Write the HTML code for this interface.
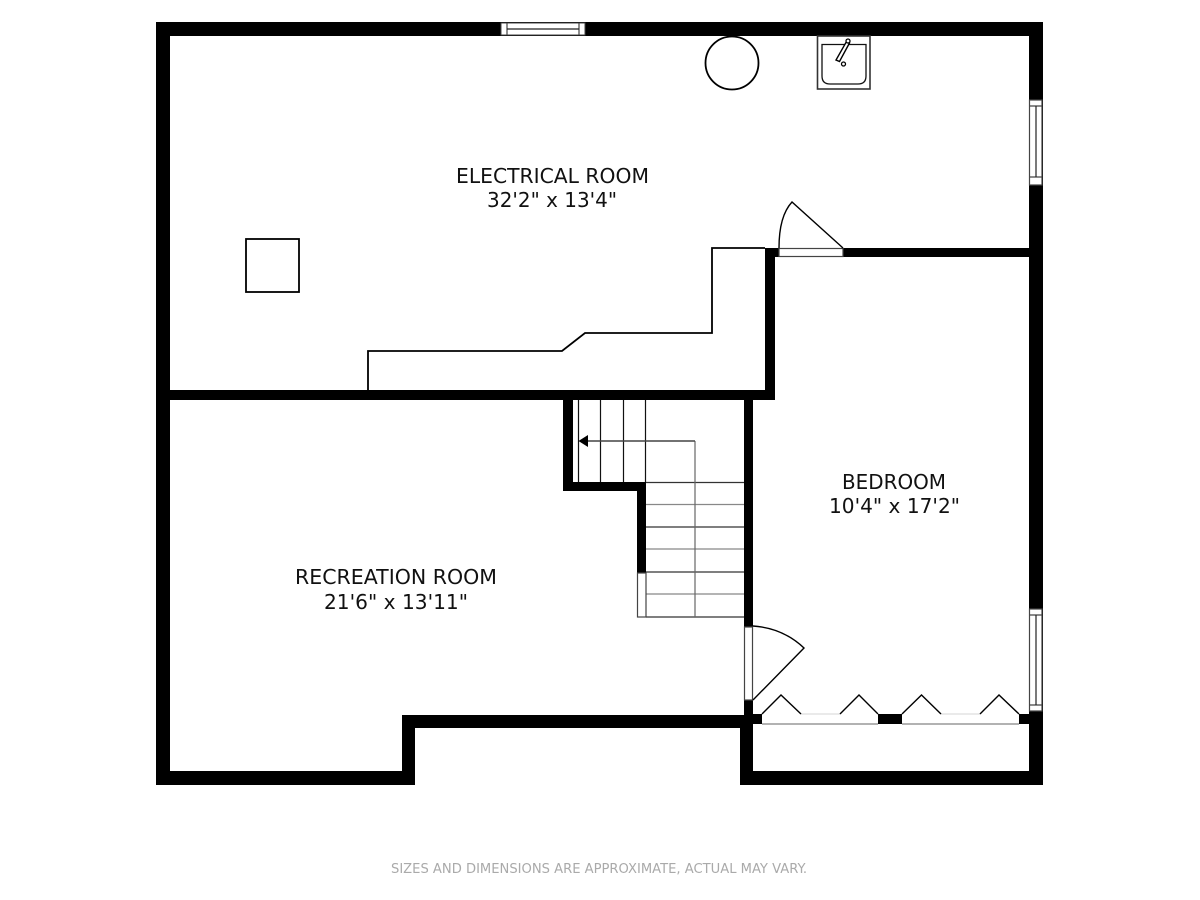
<!DOCTYPE html>
<html>
<head>
<meta charset="utf-8">
<style>
html,body{margin:0;padding:0;background:#fff;width:1200px;height:900px;overflow:hidden}
svg{display:block}
text{font-family:"DejaVu Sans","Liberation Sans",sans-serif;fill:#111;font-size:20px}
</style>
</head>
<body>
<svg width="1200" height="900" viewBox="0 0 1200 900" xmlns="http://www.w3.org/2000/svg">
<rect width="1200" height="900" fill="#fff"/>
<!-- walls -->
<g fill="#000">
<rect x="156" y="22" width="887" height="14"/>
<rect x="156" y="22" width="14" height="763"/>
<rect x="1029" y="22" width="14" height="763"/>
<rect x="156" y="771" width="259" height="14"/>
<rect x="402" y="715" width="13" height="70"/>
<rect x="402" y="715" width="351" height="13"/>
<rect x="740" y="715" width="13" height="70"/>
<rect x="740" y="771" width="303" height="14"/>
<rect x="156" y="390" width="619" height="10"/>
<rect x="765" y="248" width="10" height="152"/>
<rect x="765" y="248" width="265" height="9"/>
<rect x="744" y="400" width="9" height="325"/>
<rect x="563" y="400" width="10" height="91"/>
<rect x="563" y="482" width="83" height="9"/>
<rect x="637" y="482" width="9" height="91"/>
<rect x="744" y="714" width="18" height="10"/>
<rect x="878" y="714" width="24" height="10"/>
<rect x="1019" y="714" width="11" height="10"/>
</g>
<!-- top window -->
<rect x="501" y="23" width="84" height="12" fill="#fff" stroke="#444" stroke-width="1"/>
<path d="M507 23V35M579 23V35" stroke="#444" stroke-width="1.2" fill="none"/>
<path d="M507 29H579" stroke="#222" stroke-width="1.2" fill="none"/>
<!-- right windows -->
<g fill="#fff" stroke="#444" stroke-width="1.2">
<rect x="1029.500" y="100" width="12.500" height="85"/>
<path d="M1029.500 106H1042M1029.500 177H1042" fill="none"/>
<path d="M1036 106V177" fill="none" stroke="#222"/>
<rect x="1029.500" y="609" width="12.500" height="102"/>
<path d="M1029.500 615H1042M1029.500 705H1042" fill="none"/>
<path d="M1036 615V705" fill="none" stroke="#222"/>
</g>
<!-- electrical door -->
<rect x="779" y="248.500" width="64" height="8" fill="#fff" stroke="#444" stroke-width="1.200"/>
<path d="M843 248L792 202Q779 216 779 248" fill="none" stroke="#000" stroke-width="1.400"/>
<!-- bedroom door -->
<rect x="744.500" y="627" width="8" height="73" fill="#fff" stroke="#444" stroke-width="1.200"/>
<path d="M753 700L804 648Q783 628 753 626" fill="none" stroke="#000" stroke-width="1.400"/>
<!-- closet doors -->
<path d="M762 724H878M902 724H1019" stroke="#999" stroke-width="1.600" fill="none"/>
<path d="M801 714H840M941 714H980" stroke="#ddd" stroke-width="1.200" fill="none"/>
<path d="M762 714L781 695L801 714M840 714L859 695L878 714M902 714L921.500 695L941 714M980 714L999 695L1019 714" stroke="#000" stroke-width="1.400" fill="none"/>
<!-- stairs -->
<g fill="none" stroke-width="1.200">
<path d="M578.500 400V482M600.500 400V482M623.500 400V482M645.500 400V482" stroke="#111"/>
<path d="M646 482.500H744M646 527H744M646 572H744M646 617H744" stroke="#333"/>
<path d="M646 504.500H744M646 549H744M646 594H744" stroke="#888"/>
<path d="M695 441V617" stroke="#666"/>
<path d="M695 441H586" stroke="#444" stroke-width="1.500"/>
</g>
<path d="M578.500 441L588 435V447Z" fill="#000"/>
<rect x="637.500" y="573" width="8.500" height="44" fill="#fff" stroke="#444" stroke-width="1.200"/>
<!-- fixtures -->
<circle cx="732" cy="63" r="26.500" fill="#fff" stroke="#000" stroke-width="1.800"/>
<rect x="817.500" y="36" width="52.500" height="53" fill="#fff" stroke="#333" stroke-width="1.600"/>
<path d="M822 44.500H866V76Q866 84 858 84H830Q822 84 822 76Z" fill="#fff" stroke="#111" stroke-width="1.300"/>
<path d="M846.500 41.500L849.500 43L839.500 61.500L836 60Z" fill="#fff" stroke="#000" stroke-width="1.400"/>
<circle cx="848" cy="41" r="2" fill="#fff" stroke="#000" stroke-width="1.300"/>
<circle cx="843.500" cy="64" r="2" fill="#fff" stroke="#000" stroke-width="1.300"/>
<rect x="246" y="239" width="53" height="53" fill="#fff" stroke="#000" stroke-width="1.800"/>
<path d="M368 390V351H562L585 333H712V248H765" fill="none" stroke="#000" stroke-width="1.800"/>
<!-- labels -->
<text x="456" y="183" textLength="193" lengthAdjust="spacingAndGlyphs">ELECTRICAL ROOM</text>
<text x="487" y="207" textLength="130" lengthAdjust="spacingAndGlyphs">32'2" x 13'4"</text>
<text x="295" y="584" textLength="202" lengthAdjust="spacingAndGlyphs">RECREATION ROOM</text>
<text x="324" y="609" textLength="144" lengthAdjust="spacingAndGlyphs">21'6" x 13'11"</text>
<text x="842" y="489" textLength="104" lengthAdjust="spacingAndGlyphs">BEDROOM</text>
<text x="829" y="513" textLength="131" lengthAdjust="spacingAndGlyphs">10'4" x 17'2"</text>
<text x="391" y="873" textLength="416" lengthAdjust="spacingAndGlyphs" style="font-size:13.500px;fill:#aaa">SIZES AND DIMENSIONS ARE APPROXIMATE, ACTUAL MAY VARY.</text>
</svg>
</body>
</html>
